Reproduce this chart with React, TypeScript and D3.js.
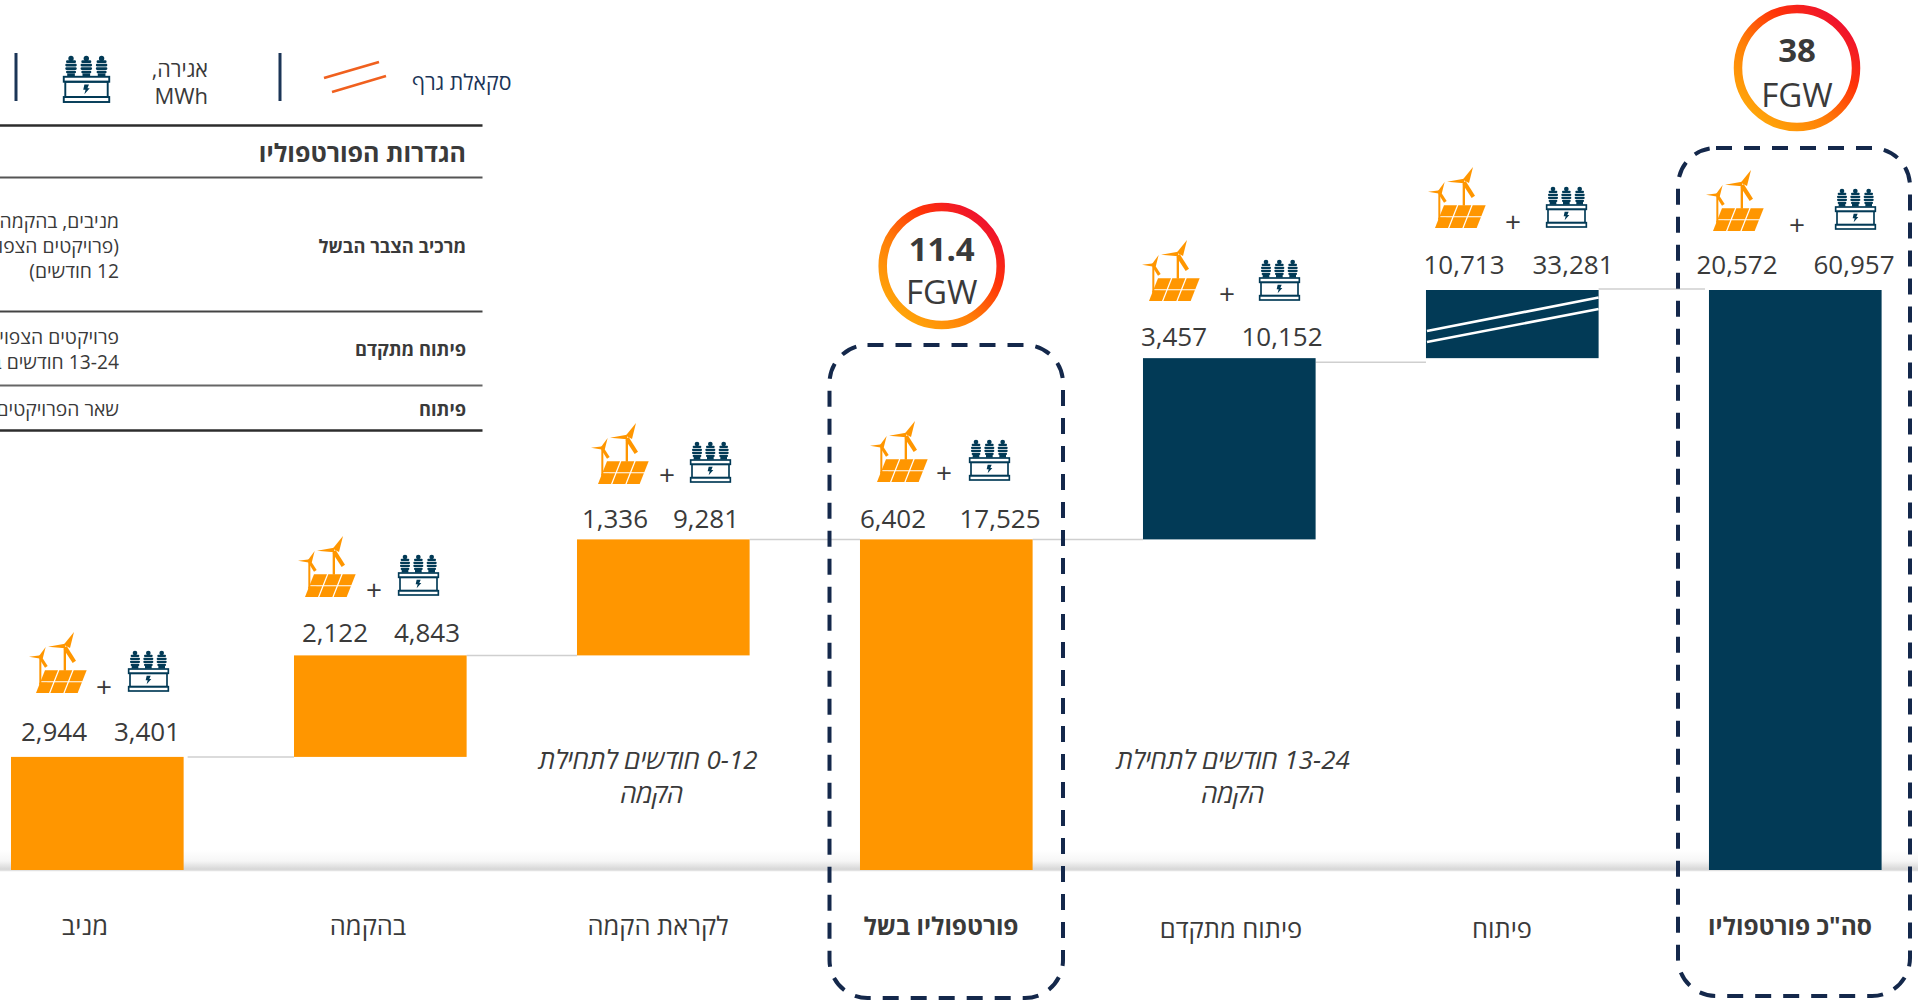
import React from "react";
import * as d3 from "d3";

const W = 1918, H = 1000;
const FONT = "'Open Sans', 'Noto Sans', sans-serif";
const INK = "#3a3a3a";
const ORANGE = "#ff9600";
const NAVY = "#023a56";
const DASH = "#14284b";

// ---- data ----
const categories = ["מניב", "בהקמה", "לקראת הקמה", "פורטפוליו בשל", "פיתוח מתקדם", "פיתוח", 'סה"כ פורטפוליו'];
const barSizes = [3.9, 3.5, 4.0, 11.4, 6.25, 2.35, 20];
const isTotal = [false, false, false, true, false, false, true];
const solarWindMW = [2944, 2122, 1336, 6402, 3457, 10713, 20572];
const storageMWh = [3401, 4843, 9281, 17525, 10152, 33281, 60957];
const barColors = [ORANGE, ORANGE, ORANGE, ORANGE, NAVY, NAVY, NAVY];
const totalsFGW = ["11.4", "38"];
const scheduleNotes = [["0-12 חודשים לתחילת", "הקמה"], ["13-24 חודשים לתחילת", "הקמה"]];
const tableTitle = "הגדרות הפורטפוליו";
const tableLabels = ["מרכיב הצבר הבשל", "פיתוח מתקדם", "פיתוח"];
const tableDescriptions = [
  ["מניבים, בהקמה", "(פרויקטים הצפויים", "12 חודשים)"],
  ["פרויקטים הצפויים", "13-24 חודשים בלבד"],
  ["שאר הפרויקטים"],
];

// ---- layout ----
const fmt = d3.format(",");
const x = d3.scaleBand<string>().domain(categories).range([11, 1881.6]).paddingInner(0.39).paddingOuter(0).align(0);
const y = d3.scaleLinear().domain([0, 20]).range([870, 290]);

let run = 0;
const bars = categories.map((c, i) => {
  const base = isTotal[i] ? 0 : run;
  const top = base + barSizes[i];
  run = isTotal[i] ? barSizes[i] : top;
  return { c, i, base, top };
});

const labelCenters = [[54, 147], [335, 427], [615, 706], [893, 1000], [1174, 1282], [1464, 1573], [1737, 1854]];
const labelRaise = [16, 13, 11, 11, 12, 16, 16];
const windAt = [[29, 632], [298, 536], [591, 423], [870, 421], [1142, 240], [1428, 167], [1706, 170]];
const transformerAt = [[128, 650], [398, 554], [690, 441], [969, 439], [1259, 259], [1546, 186], [1835, 188]];
const plusAt = [[104, 687], [374, 590], [667, 475], [944, 473], [1227, 294], [1513, 222], [1797, 225]];
const catAt = [[85, 935], [368, 935], [658, 935], [941, 935], [1231, 938], [1502, 938], [1790, 935]];
const connectorGap = [4, 0, 0, 0, 0, 0];
const connectorDrop = [0, 0, 0, 0, 4, -1];
const tableRules = [[125.5, 2.4, "#2d2d2d"], [177.5, 2, "#555"], [311.5, 2, "#444"], [385.5, 2, "#666"], [430.5, 2.4, "#2d2d2d"]] as const;
const tableLabelY = [253, 356, 416];
const tableDescY = [[228, 253, 278], [344, 369], [416]];
const rings = [[941.7, 266, 261, 304], [1797, 68, 62, 107]];
const boxes = [[829.5, 345, 233.5, 653], [1678, 148, 232, 848]];
const noteAt = [[648, 652], [1233, 1233]];

function WindSolar({ px, py }: { px: number; py: number }) {
  // drawn in a 3x local grid
  const cells: string[] = [];
  const skew = 27 / 68;
  for (let r = 0; r < 2; r++) {
    const y0 = r === 0 ? 115 : 151;
    const y1 = r === 0 ? 148 : 183;
    for (let c = 0; c < 3; c++) {
      const xb = 21 + c * 43;
      const xa = xb + 39;
      const sx = (yy: number) => (183 - yy) * skew;
      cells.push(`M${xb + sx(y0)},${y0}L${xa + sx(y0)},${y0}L${xa + sx(y1)},${y1}L${xb + sx(y1)},${y1}Z`);
    }
  }
  return (
    <g transform={`translate(${px},${py}) scale(0.3333)`} fill={ORANGE} stroke="none">
      {cells.map((d, i) => <path key={i} d={d} />)}
      <rect x={104} y={44} width={7} height={72} />
      <path d="M104,38 L135,0 L123,48 Z" />
      <path d="M57,44 L108,35 L108,49 Z" />
      <path d="M113,42 L141,86 L131,93 L104,52 Z" />
      <rect x={31} y={76} width={6} height={82} />
      <rect x={31} y={152} width={24} height={6} />
      <path d="M30,72 L50,45 L41,80 Z" />
      <path d="M0,74 L36,70 L36,80 Z" />
      <path d="M38,74 L56,102 L48,107 L31,80 Z" />
    </g>
  );
}

function Transformer({ px, py, w = 41 }: { px: number; py: number; w?: number }) {
  const k = w / 123;
  const s = { fill: "none", stroke: NAVY, strokeWidth: 5 };
  return (
    <g transform={`translate(${px},${py}) scale(${k})`}>
      {[21, 61, 101].map((cx) => (
        <g key={cx} fill={NAVY}>
          <circle cx={cx} cy={9} r={7} />
          <rect x={cx - 13} y={14} width={26} height={7} rx={3} />
          <rect x={cx - 15} y={23} width={30} height={7} rx={3} />
          <rect x={cx - 15} y={32} width={30} height={7} rx={3} />
          <rect x={cx - 13} y={41} width={26} height={7} rx={3} />
          <rect x={cx - 10} y={48} width={20} height={8} />
        </g>
      ))}
      <rect x={2} y={57} width={119} height={13} {...s} />
      <rect x={6} y={70} width={111} height={40} {...s} />
      <rect x={2} y={110} width={119} height={13} {...s} />
      <path d="M56,77 L68,77 L64,87 L70,87 L56,103 L59,91 L53,91 Z" fill={NAVY} />
    </g>
  );
}

export default function App() {
  return (
    <svg
      width={W}
      height={H}
      viewBox={`0 0 ${W} ${H}`}
      style={{ position: "absolute", left: 0, top: 0, display: "block", background: "#fff", fontFamily: FONT }}
    >
      <defs>
        <linearGradient id="floor" x1="0" y1="0" x2="0" y2="1">
          <stop offset="0" stopColor="#ffffff" />
          <stop offset="0.55" stopColor="#f6f6f6" />
          <stop offset="1" stopColor="#d4d4d4" />
        </linearGradient>
        <linearGradient id="ring" x1="0.12" y1="0.9" x2="0.88" y2="0.1">
          <stop offset="0" stopColor="#ffa60a" />
          <stop offset="0.35" stopColor="#ff8008" />
          <stop offset="0.7" stopColor="#ff3408" />
          <stop offset="1" stopColor="#ee1030" />
        </linearGradient>
      </defs>

      {/* floor */}
      <rect x={0} y={850} width={W} height={20} fill="url(#floor)" />
      <line x1={0} x2={W} y1={870.5} y2={870.5} stroke="#e2e2e2" strokeWidth={1.5} />

      {/* connectors */}
      {bars.slice(0, -1).map((b, i) => (
        <line
          key={i}
          x1={x(b.c)! + x.bandwidth() + connectorGap[i]}
          x2={x(categories[i + 1])! + (i === 5 ? -4 : 0)}
          y1={y(b.top) + connectorDrop[i]}
          y2={y(b.top) + connectorDrop[i]}
          stroke="#cfcfcf"
          strokeWidth={1.5}
        />
      ))}

      {/* bars */}
      {bars.map((b) => (
        <rect key={b.c} x={x(b.c)} y={y(b.top)} width={x.bandwidth()} height={y(b.base) - y(b.top)} fill={barColors[b.i]} />
      ))}

      {/* scale break on the development bar */}
      {[[331, 297.5], [342, 309]].map(([a, c], i) => (
        <line key={i} x1={x(categories[5])! + 1} x2={x(categories[5])! + x.bandwidth()} y1={a} y2={c} stroke="#fff" strokeWidth={2.6} />
      ))}

      {/* icons + values */}
      {bars.map((b) => (
        <g key={b.c}>
          <WindSolar px={windAt[b.i][0]} py={windAt[b.i][1]} />
          <Transformer px={transformerAt[b.i][0]} py={transformerAt[b.i][1]} />
          <text x={plusAt[b.i][0]} y={plusAt[b.i][1] + 10} textAnchor="middle" fontSize={28} fill={INK}>+</text>
          <text x={labelCenters[b.i][0]} y={y(b.top) - labelRaise[b.i]} textAnchor="middle" fontSize={26} fill={INK}>{fmt(solarWindMW[b.i])}</text>
          <text x={labelCenters[b.i][1]} y={y(b.top) - labelRaise[b.i]} textAnchor="middle" fontSize={26} fill={INK}>{fmt(storageMWh[b.i])}</text>
          <text
            x={catAt[b.i][0]}
            y={catAt[b.i][1]}
            textAnchor="middle"
            direction="rtl"
            fontSize={isTotal[b.i] ? 24.5 : 25.5}
            fontWeight={isTotal[b.i] ? 700 : 400}
            fill={INK}
          >
            {b.c}
          </text>
        </g>
      ))}

      {/* schedule notes */}
      {scheduleNotes.map((lines, i) =>
        lines.map((t, j) => (
          <text key={`${i}${j}`} x={j === 0 ? noteAt[i][0] : noteAt[i][1]} y={769 + j * 34} textAnchor="middle" direction="rtl" fontSize={26} fontStyle="italic" fill={INK}>
            {t}
          </text>
        ))
      )}

      {/* dashed outlines */}
      {boxes.map(([bx, by, bw, bh], i) => (
        <rect key={i} x={bx} y={by} width={bw} height={bh} rx={38} ry={38} fill="none" stroke={DASH} strokeWidth={4} strokeDasharray="16 12" />
      ))}

      {/* FGW rings */}
      {rings.map(([cx, cy, b1, b2], i) => (
        <g key={i}>
          <circle cx={cx} cy={cy} r={59} fill="#fff" stroke="url(#ring)" strokeWidth={8.5} />
          <text x={cx} y={b1} textAnchor="middle" fontSize={33} fontWeight={700} fill={INK}>{totalsFGW[i]}</text>
          <text x={cx} y={b2} textAnchor="middle" fontSize={33} fill={INK}>FGW</text>
        </g>
      ))}

      {/* legend */}
      {[16, 280].map((lx) => (
        <line key={lx} x1={lx} x2={lx} y1={53} y2={101} stroke="#1b3557" strokeWidth={3} />
      ))}
      <Transformer px={63} py={55} w={47} />
      <text x={208} y={77} direction="rtl" textAnchor="start" fontSize={21.5} fill={INK}>אגירה,</text>
      <text x={208} y={104} textAnchor="end" fontSize={22} fill={INK}>MWh</text>
      <line x1={324} y1={78} x2={379} y2={62} stroke="#f0601e" strokeWidth={2.6} />
      <line x1={332} y1={92} x2={386} y2={76} stroke="#f0601e" strokeWidth={2.6} />
      <text x={511.5} y={90} direction="rtl" textAnchor="start" fontSize={21.3} fill="#1b3557">סקאלת גרף</text>

      {/* definitions table */}
      {tableRules.map(([ry, sw, col]) => (
        <line key={ry} x1={0} x2={482.5} y1={ry} y2={ry} stroke={col} strokeWidth={sw} />
      ))}
      <text x={466} y={162} direction="rtl" textAnchor="start" fontSize={25} fontWeight={700} fill={INK}>{tableTitle}</text>
      {tableLabels.map((t, i) => (
        <text key={t} x={466} y={tableLabelY[i]} direction="rtl" textAnchor="start" fontSize={18.3} fontWeight={700} fill={INK}>{t}</text>
      ))}
      {tableDescriptions.map((lines, i) =>
        lines.map((t, j) => (
          <text key={`${i}${j}`} x={119} y={tableDescY[i][j]} direction="rtl" textAnchor="start" fontSize={19.3} fill={INK}>{t}</text>
        ))
      )}
    </svg>
  );
}
